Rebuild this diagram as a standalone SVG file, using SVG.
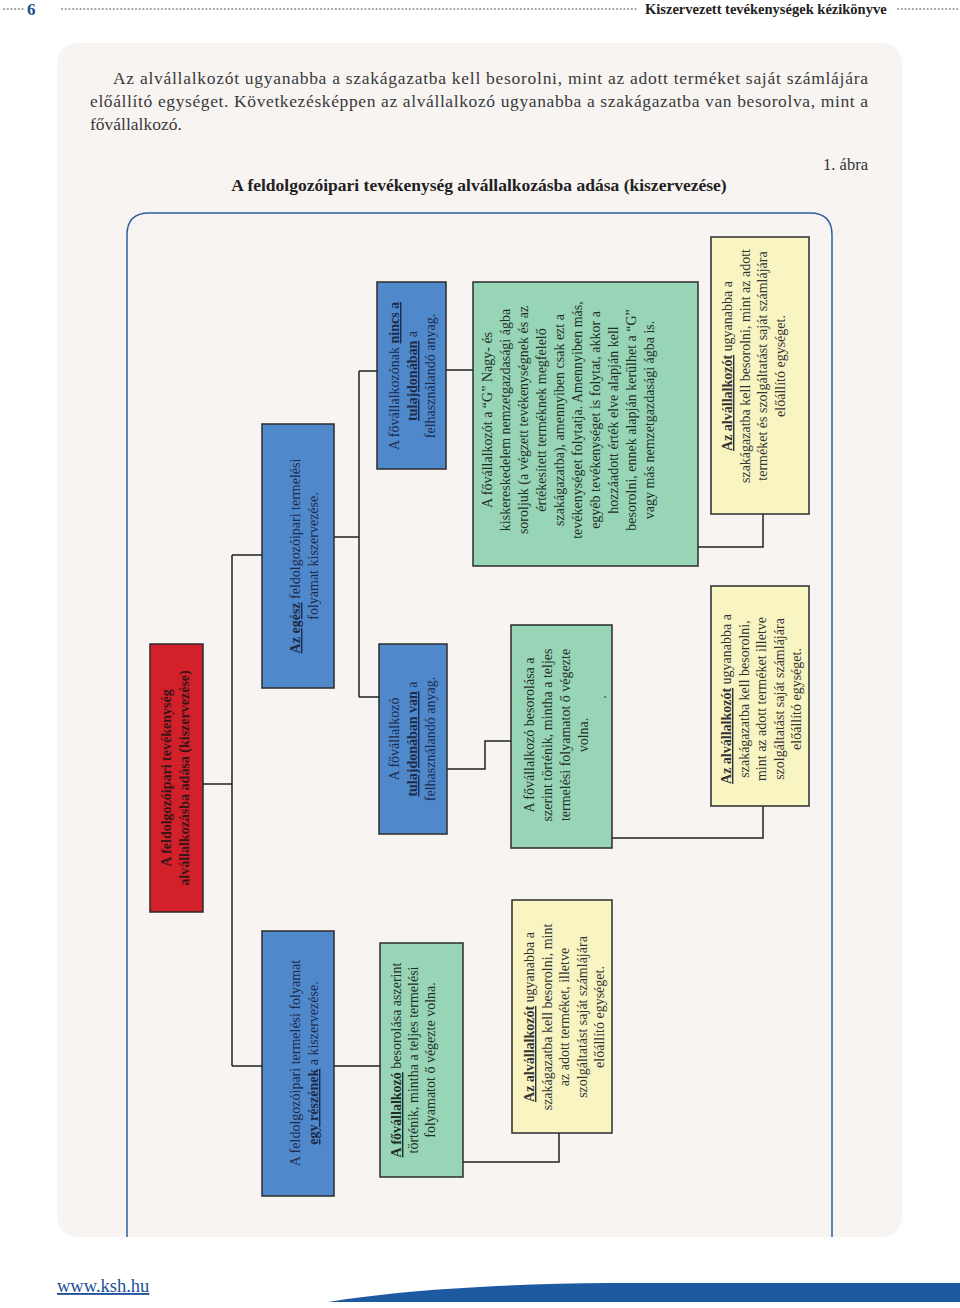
<svg xmlns="http://www.w3.org/2000/svg" width="960" height="1308" viewBox="0 0 960 1308">
<style>
.serif{font-family:"Liberation Serif","Times New Roman",serif;}
.bt{font-family:"Liberation Serif","Times New Roman",serif;font-size:14px;text-anchor:middle;}
.u{font-weight:bold;text-decoration:underline;}
.b{font-weight:bold;}
.box{stroke:#2b2b2b;stroke-width:1.5;}
.red{fill:#d3212b;}
.blue{fill:#5088cc;}
.green{fill:#98d4b6;}
.yellow{fill:#f8f5c3;}
.conn{fill:none;stroke:#222;stroke-width:1.5;}
.dots{stroke:#9aa0a8;stroke-width:2.2;stroke-dasharray:0.1 3.6;stroke-linecap:round;}
</style>
<rect width="960" height="1308" fill="#ffffff"/>
<g id="header">
<line class="dots" x1="4" y1="9" x2="25" y2="9"/>
<text class="serif" x="27" y="15" font-size="17" font-weight="bold" fill="#1b4f8c">6</text>
<line class="dots" x1="62" y1="9" x2="636" y2="9"/>
<text class="serif" x="645" y="14" font-size="14.5" font-weight="bold" fill="#222">Kiszervezett tevékenységek kézikönyve</text>
<line class="dots" x1="898" y1="9" x2="960" y2="9"/>
</g>
<rect x="57" y="43" width="845" height="1194" rx="20" fill="#f7f4f2"/>
<g id="paragraph" class="serif" font-size="17.5" fill="#3a3a3a">
<text x="113" y="84" textLength="755" lengthAdjust="spacing">Az alvállalkozót ugyanabba a szakágazatba kell besorolni, mint az adott terméket saját számlájára</text>
<text x="90" y="107" textLength="778" lengthAdjust="spacing">előállító egységet. Következésképpen az alvállalkozó ugyanabba a szakágazatba van besorolva, mint a</text>
<text x="90" y="130">fővállalkozó.</text>
</g>
<text class="serif" x="868" y="170" font-size="16.5" fill="#333" text-anchor="end">1. ábra</text>
<text id="title" class="serif" x="479" y="191" font-size="17.5" font-weight="bold" fill="#222" text-anchor="middle">A feldolgozóipari tevékenység alvállalkozásba adása (kiszervezése)</text>
<path id="frame" d="M127,1237 V235 Q127,213 149,213 H810 Q832,213 832,235 V1237" fill="none" stroke="#2f5f9f" stroke-width="1.5"/>
<g id="connectors" class="conn">
<path d="M203,784 H232"/>
<path d="M232,555 V1066"/>
<path d="M232,555 H262"/>
<path d="M232,1066 H262"/>
<path d="M334,537 H359"/>
<path d="M359,371 V697"/>
<path d="M359,371 H377"/>
<path d="M359,697 H379"/>
<path d="M334,1066 H380"/>
<path d="M446,370 H473"/>
<path d="M447,769 H485 V741 H511"/>
<path d="M698,547 H763 V514"/>
<path d="M612,838 H763 V806"/>
<path d="M463,1162 H559 V1133"/>
</g>
<g id="n-root">
<rect class="box red" x="150" y="644" width="53" height="268"/>
<g transform="translate(0,778) rotate(-90)" class="bt b" fill="#3a1517">
<text x="0" y="171">A feldolgozóipari tevékenység</text>
<text x="0" y="189">alvállalkozásba adása (kiszervezése)</text>
</g>
</g>
<g id="n-whole">
<rect class="box blue" x="262" y="424" width="72" height="264"/>
<g transform="translate(0,556) rotate(-90)" class="bt" fill="#1c2b4a">
<text x="0" y="300"><tspan class="u">Az egész</tspan> feldolgozóipari termelési</text>
<text x="0" y="318">folyamat kiszervezése.</text>
</g>
</g>
<g id="n-part">
<rect class="box blue" x="262" y="931" width="72" height="265"/>
<g transform="translate(0,1063) rotate(-90)" class="bt" fill="#1c2b4a">
<text x="0" y="300">A feldolgozóipari termelési folyamat</text>
<text x="0" y="318"><tspan class="u">egy részének</tspan> a kiszervezése.</text>
</g>
</g>
<g id="n-nincs">
<rect class="box blue" x="377" y="282" width="69" height="187"/>
<g transform="translate(0,376) rotate(-90)" class="bt" fill="#1c2b4a">
<text x="0" y="399">A fővállalkozónak <tspan class="u">nincs a</tspan></text>
<text x="0" y="417"><tspan class="u">tulajdonában</tspan> a</text>
<text x="0" y="435">felhasználandó anyag.</text>
</g>
</g>
<g id="n-van">
<rect class="box blue" x="379" y="644" width="68" height="190"/>
<g transform="translate(0,739) rotate(-90)" class="bt" fill="#1c2b4a">
<text x="0" y="399">A fővállalkozó</text>
<text x="0" y="417"><tspan class="u">tulajdonában van</tspan> a</text>
<text x="0" y="435">felhasználandó anyag.</text>
</g>
</g>
<g id="n-aszerint">
<rect class="box green" x="380" y="943" width="83" height="234"/>
<g transform="translate(0,1060) rotate(-90)" class="bt" fill="#1f2f28">
<text x="0" y="401"><tspan class="u">A fővállalkozó</tspan> besorolása aszerint</text>
<text x="0" y="418">történik, mintha a teljes termelési</text>
<text x="0" y="435">folyamatot ő végezte volna.</text>
</g>
</g>
<g id="n-g">
<rect class="box green" x="473" y="282" width="225" height="284"/>
<g transform="translate(0,420) rotate(-90)" class="bt" fill="#1f2f28" font-size="14.5">
<text x="0" y="492">A fővállalkozót a “G” Nagy- és</text>
<text x="0" y="510">kiskereskedelem nemzetgazdasági ágba</text>
<text x="0" y="528">soroljuk (a végzett tevékenységnek és az</text>
<text x="0" y="546">értékesített terméknek megfelelő</text>
<text x="0" y="564">szakágazatba), amennyiben csak ezt a</text>
<text x="0" y="582">tevékenységet folytatja. Amennyiben más,</text>
<text x="0" y="600">egyéb tevékenységet is folytat, akkor a</text>
<text x="0" y="618">hozzáadott érték elve alapján kell</text>
<text x="0" y="636">besorolni, ennek alapján kerülhet a “G”</text>
<text x="0" y="654">vagy más nemzetgazdasági ágba is.</text>
</g>
</g>
<g id="n-szerint">
<rect class="box green" x="511" y="625" width="101" height="223"/>
<g transform="translate(0,735) rotate(-90)" class="bt" fill="#1f2f28">
<text x="0" y="534">A fővállalkozó besorolása a</text>
<text x="0" y="552">szerint történik, mintha a teljes</text>
<text x="0" y="570">termelési folyamatot ő végezte</text>
<text x="0" y="588">volna.</text>
<text x="38" y="606">.</text>
</g>
</g>
<g id="n-alv1">
<rect class="box yellow" x="512" y="900" width="100" height="233"/>
<g transform="translate(0,1017) rotate(-90)" class="bt" fill="#333">
<text x="0" y="534"><tspan class="u">Az alvállalkozót</tspan> ugyanabba a</text>
<text x="0" y="551.5">szakágazatba kell besorolni, mint</text>
<text x="0" y="569">az adott terméket, illetve</text>
<text x="0" y="586.5">szolgáltatást saját számlájára</text>
<text x="0" y="604">előállító egységet.</text>
</g>
</g>
<g id="n-alv2">
<rect class="box yellow" x="711" y="237" width="98" height="277"/>
<g transform="translate(0,366) rotate(-90)" class="bt" fill="#333">
<text x="0" y="732"><tspan class="u">Az alvállalkozót</tspan> ugyanabba a</text>
<text x="0" y="749.5">szakágazatba kell besorolni, mint az adott</text>
<text x="0" y="767">terméket és szolgáltatást saját számlájára</text>
<text x="0" y="784.5">előállító egységet.</text>
</g>
</g>
<g id="n-alv3">
<rect class="box yellow" x="711" y="586" width="98" height="220"/>
<g transform="translate(0,699) rotate(-90)" class="bt" fill="#333">
<text x="0" y="731"><tspan class="u">Az alvállalkozót</tspan> ugyanabba a</text>
<text x="0" y="748.5">szakágazatba kell besorolni,</text>
<text x="0" y="766">mint az adott terméket illetve</text>
<text x="0" y="783.5">szolgáltatást saját számlájára</text>
<text x="0" y="801">előállító egységet.</text>
</g>
</g>
<g id="footer">
<text class="serif" x="57" y="1292" font-size="18.5" fill="#1b4f9a" text-decoration="underline">www.ksh.hu</text>
<path d="M328,1302 C400,1290 500,1284 610,1283 L960,1283 L960,1302 Z" fill="#1d5aa2"/>
</g>
</svg>
